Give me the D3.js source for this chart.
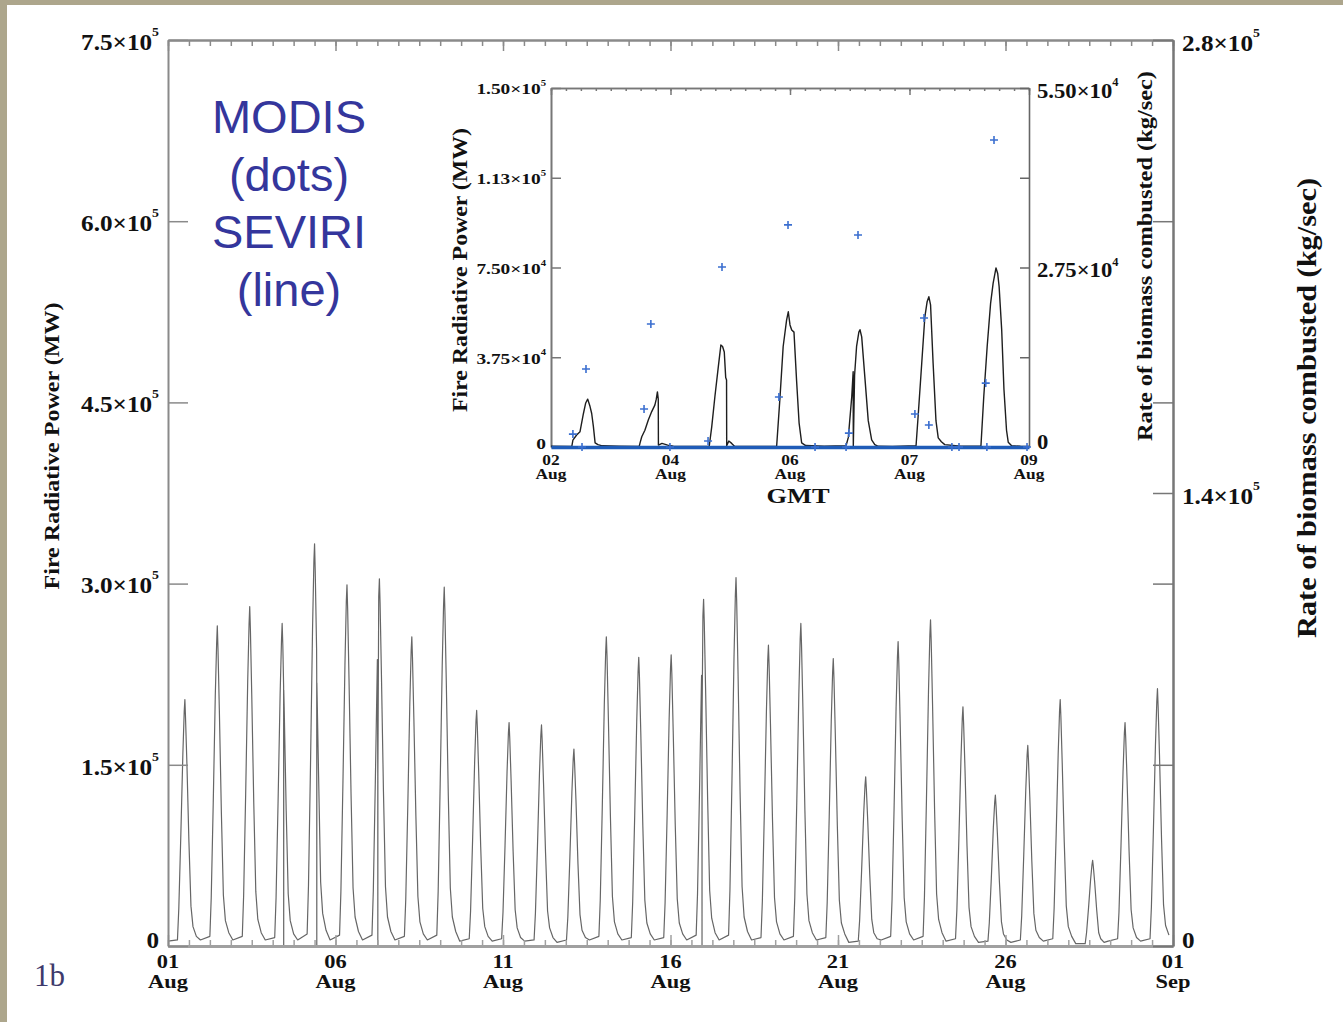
<!DOCTYPE html>
<html>
<head>
<meta charset="utf-8">
<script src="https://cdn.jsdelivr.net/npm/d3@7"></script>
<style>
  html, body { margin: 0; padding: 0; background: #ffffff; }
  svg { display: block; }
  .serif { font-family: "Liberation Serif", "Times New Roman", serif; font-weight: bold; fill: #111; }
</style>
</head>
<body>
<svg id="fig" width="1343" height="1022"></svg>
<script>
// ---------------- data ----------------
// Main panel: SEVIRI fire radiative power, August, one row per day (kMW),
// sampled at the hours (UTC) listed in seviriHours.
const seviriHours = [0, 7, 8, 9.5, 11, 12, 12.5, 13, 14, 15.5, 17, 18.5, 21];
const seviriAugust = [
  [4, 5, 31, 92, 159, 194, 204, 188, 151, 86, 33, 16, 8],
  [5, 8, 40, 119, 207, 250, 265, 246, 196, 111, 42, 21, 11],
  [5, 8, 42, 126, 219, 266, 281, 262, 208, 118, 45, 22, 11],
  [5, 7, 40, 120, 208, 252, 267, 249, 198, 112, 43, 21, 10],
  [5, 10, 50, 150, 262, 318, 333, 310, 246, 140, 53, 27, 13],
  [5, 9, 45, 135, 233, 285, 299, 279, 221, 126, 48, 24, 12],
  [5, 9, 46, 137, 237, 289, 304, 284, 225, 128, 49, 24, 12],
  [5, 8, 38, 115, 200, 244, 256, 238, 189, 108, 41, 20, 10],
  [5, 9, 45, 134, 232, 282, 297, 277, 220, 125, 48, 24, 12],
  [4, 6, 29, 88, 152, 186, 195, 181, 144, 82, 31, 16, 8],
  [4, 6, 28, 83, 144, 176, 185, 172, 137, 78, 30, 15, 7],
  [4, 5, 27, 82, 143, 174, 183, 170, 135, 77, 29, 15, 7],
  [3, 5, 24, 73, 127, 155, 163, 151, 121, 68, 26, 13, 7],
  [5, 8, 38, 115, 200, 243, 256, 240, 189, 108, 41, 20, 10],
  [5, 7, 36, 108, 186, 227, 239, 223, 177, 100, 38, 19, 10],
  [5, 7, 36, 108, 188, 229, 241, 225, 178, 101, 39, 19, 10],
  [5, 9, 43, 129, 224, 273, 287, 268, 212, 121, 46, 23, 11],
  [5, 9, 46, 137, 238, 290, 305, 285, 226, 128, 49, 24, 12],
  [5, 7, 37, 112, 194, 237, 249, 232, 184, 105, 40, 20, 10],
  [5, 8, 40, 120, 208, 254, 267, 249, 198, 112, 43, 21, 11],
  [5, 7, 36, 107, 186, 226, 238, 222, 176, 100, 38, 19, 10],
  [3, 4, 21, 63, 109, 133, 140, 130, 104, 59, 22, 11, 6],
  [5, 8, 38, 113, 197, 239, 252, 235, 186, 106, 40, 20, 10],
  [5, 8, 41, 122, 211, 257, 270, 252, 200, 113, 43, 22, 11],
  [4, 6, 30, 89, 154, 188, 198, 184, 147, 83, 32, 16, 8],
  [3, 4, 19, 56, 98, 119, 125, 116, 93, 53, 20, 10, 5],
  [3, 5, 25, 75, 129, 158, 166, 154, 123, 70, 27, 13, 7],
  [4, 6, 31, 92, 159, 194, 204, 190, 151, 86, 33, 16, 8],
  [2, 2, 11, 32, 55, 67, 71, 66, 53, 30, 11, 6, 3],
  [4, 6, 28, 83, 144, 176, 185, 172, 137, 78, 30, 15, 7],
  [4, 6, 32, 96, 166, 202, 213, 198, 158, 89, 34, 17, 9]
];
// Short dropouts in the record: [day index, hour UTC, kMW]
const seviriAugustDropouts = [
  [3, 13.60, 215], [3, 13.65, 0], [3, 13.70, 212],
  [4, 14.10, 225], [4, 14.15, 0], [4, 14.20, 218],
  [6, 11.30, 143], [6, 11.34, 0], [6, 11.38, 143],
  [16, 11.30, 184], [16, 11.34, 0], [16, 11.38, 190]
];

// Main axes
const mainTickDays = ["01", "06", "11", "16", "21", "26", "01"];
const mainTickMonths = ["Aug", "Aug", "Aug", "Aug", "Aug", "Aug", "Sep"];
const mainFrpTicks = [0, 1.5e5, 3.0e5, 4.5e5, 6.0e5, 7.5e5];
const mainFrpMantissa = ["0", "1.5", "3.0", "4.5", "6.0", "7.5"];
const mainFrpExponent = ["", "5", "5", "5", "5", "5"];
const mainRateTicks = [0, 1.4e5, 2.8e5];
const mainRateMantissa = ["0", "1.4", "2.8"];
const mainRateExponent = ["", "5", "5"];

// Inset: 02-09 Aug, hours since 02 Aug 00 UTC, FRP in kMW
const insetSeviri = [
  [0, 0.3], [7.3, 0.2], [7.7, 2.9], [9.0, 5.0], [10.2, 6.4], [11.4, 14.0], [12.2, 18.4],
  [12.9, 20.0], [13.3, 18.5], [13.7, 17.0], [14.3, 14.0], [14.9, 8.5], [15.5, 1.7], [16.5, 1.0],
  [18.0, 0.5], [24, 0.3], [31.0, 0.2], [31.3, 1.7], [31.9, 4.3], [33.0, 7.0], [34.2, 11.3],
  [35.4, 14.8], [36.5, 17.5], [37.0, 20.0], [37.4, 23.0], [37.7, 20.0], [37.75, 0.8], [39.0, 1.5],
  [41.0, 0.8], [43.0, 0.3], [48, 0.2], [55.6, 0.2], [56.5, 8.5], [57.6, 21.0], [58.8, 33.5],
  [59.7, 42.6], [60.3, 42.0], [60.9, 39.7], [61.4, 29.0], [61.7, 28.0], [61.75, 0.5],
  [62.5, 2.5], [63.5, 1.5], [64.5, 0.3], [72, 0.2], [79.3, 0.2], [80.5, 21.0], [81.6, 42.0],
  [82.8, 53.0], [83.4, 56.5], [84.0, 51.0], [84.6, 48.9], [85.4, 48.0], [86.3, 28.0],
  [87.2, 10.0], [88.1, 1.7], [89.5, 0.6], [96, 0.3], [103.7, 0.5], [104.5, 4.0], [105.7, 21.0],
  [106.2, 31.5], [106.25, 0.3], [106.7, 30.0], [107.4, 42.0], [108.2, 48.0], [108.6, 49.0],
  [109.2, 46.0], [110.3, 29.3], [111.5, 11.0], [112.7, 3.0], [113.8, 1.0], [115.0, 0.3],
  [120, 0.2], [128.3, 0.5], [129.1, 14.0], [130.3, 35.0], [131.4, 54.4], [132.2, 60.7],
  [132.8, 62.8], [133.4, 59.4], [134.3, 35.0], [135.3, 11.0], [136.1, 3.8], [137.2, 2.2],
  [138.4, 1.0], [144, 0.3], [151.1, 0.3], [152.1, 21.0], [153.3, 42.0], [154.5, 60.0],
  [155.4, 68.5], [156.4, 74.8], [157.0, 72.5], [157.5, 67.0], [158.4, 49.0], [159.2, 24.0],
  [160.1, 7.0], [160.7, 2.0], [161.9, 0.5], [165, 0.3], [168, 0.2]
];
// MODIS overpass retrievals: [hours since 02 Aug 00 UTC, kMW]
const insetModis = [
  [7.7, 5.4], [12.3, 32.6], [32.7, 15.9], [35.1, 51.4], [55.2, 2.5], [60.1, 75.2],
  [80.1, 20.9], [83.3, 92.8], [104.7, 5.8], [107.9, 88.6], [127.9, 13.8], [131.1, 53.9],
  [132.8, 9.2], [152.8, 26.7], [155.7, 128.3],
  [10.9, 0], [41.8, 0], [92.8, 0], [103.7, 0], [140.9, 0], [143.4, 0], [153.2, 0], [167.3, 0]
];
const insetTickDays = ["02", "04", "06", "07", "09"];
const insetTickMonths = ["Aug", "Aug", "Aug", "Aug", "Aug"];
const insetFrpTicks = [0, 3.75e4, 7.5e4, 1.125e5, 1.5e5];
const insetFrpMantissa = ["0", "3.75", "7.50", "1.13", "1.50"];
const insetFrpExponent = ["", "4", "4", "5", "5"];
const insetRateTicks = [0, 2.75e4, 5.5e4];
const insetRateMantissa = ["0", "2.75", "5.50"];
const insetRateExponent = ["", "4", "4"];

const legendLines = ["MODIS", "(dots)", "SEVIRI", "(line)"];

// ---------------- drawing ----------------
const svg = d3.select("#fig");
const SERIF = '"Liberation Serif", "Times New Roman", serif';

// page frame
svg.append("rect").attr("x", 0).attr("y", 0).attr("width", 1343).attr("height", 1022).attr("fill", "#ffffff");
svg.append("rect").attr("x", 0).attr("y", 0).attr("width", 1343).attr("height", 5).attr("fill", "#ada68c");
svg.append("rect").attr("x", 0).attr("y", 0).attr("width", 7).attr("height", 1022).attr("fill", "#ada68c");

// scientific-notation label: mantissa "×10" with raised exponent
function sciLabel(g, x, y, mant, exp, size, anchor, sx) {
  const t = g.append("text")
    .attr("class", "serif")
    .attr("transform", `translate(${x},${y}) scale(${sx || 1},1)`)
    .attr("text-anchor", anchor)
    .attr("font-size", size)
    .attr("dominant-baseline", "central");
  if (exp === "") {
    t.text(mant);
  } else {
    t.append("tspan").text(mant + "\u00D710");
    t.append("tspan").attr("font-size", size * 0.55).attr("dy", -size * 0.42).text(exp);
  }
  return t;
}

// two-line date label (day over month) as one text element
function dateLabel(g, x, y, day, month, size, sx, gap) {
  const t = g.append("text").attr("class", "serif").attr("font-size", size)
    .attr("text-anchor", "middle")
    .attr("transform", `translate(${x},${y}) scale(${sx},1)`);
  t.append("tspan").attr("x", 0).attr("y", 0).text(day);
  t.append("tspan").attr("x", 0).attr("y", gap).text(month);
  return t;
}

// ---- main panel ----
const M = { left: 168, right: 1173, top: 40, bottom: 946 };
const x = d3.scaleLinear().domain([0, 31]).range([M.left, M.right]);
const y = d3.scaleLinear().domain([0, 7.5e5]).range([M.bottom, M.top]);
const yRate = d3.scaleLinear().domain([0, 2.8e5]).range([M.bottom, M.top]);

const majorDays = d3.range(7).map(i => i * 31 / 6);
const minorDays = d3.range(49).map(i => i * 31 / 48);

const axisColor = "#8a8a8a";
function styleAxis(g, color, width) {
  g.selectAll("path.domain").attr("stroke", color).attr("stroke-width", width);
  g.selectAll(".tick line").attr("stroke", color).attr("stroke-width", 1.5);
  g.selectAll(".tick text").remove();
}

// series
const mainPoints = [];
seviriAugust.forEach((row, d) => {
  row.forEach((v, i) => mainPoints.push({ t: d + seviriHours[i] / 24, v: v * 1000 }));
});
seviriAugustDropouts.forEach(([d, h, v]) => mainPoints.push({ t: d + h / 24, v: v * 1000 }));
mainPoints.sort((a, b) => a.t - b.t);

svg.append("path")
  .datum(mainPoints)
  .attr("fill", "none")
  .attr("stroke", "#666")
  .attr("stroke-width", 1.2)
  .attr("stroke-linejoin", "round")
  .attr("d", d3.line().x(p => x(p.t)).y(p => y(p.v)));

// bottom axis (minor + major ticks pointing up)
svg.append("g").attr("transform", `translate(0,${M.bottom})`)
  .call(d3.axisBottom(x).tickValues(minorDays).tickSize(-6).tickSizeOuter(0))
  .call(g => styleAxis(g, "#a0a0a0", 3));
svg.append("g").attr("transform", `translate(0,${M.bottom})`)
  .call(d3.axisBottom(x).tickValues(majorDays).tickSize(-11).tickSizeOuter(0))
  .call(g => styleAxis(g, "#a0a0a0", 3));
// top axis
svg.append("g").attr("transform", `translate(0,${M.top})`)
  .call(d3.axisTop(x).tickValues(minorDays).tickSize(-6).tickSizeOuter(0))
  .call(g => styleAxis(g, axisColor, 2));
svg.append("g").attr("transform", `translate(0,${M.top})`)
  .call(d3.axisTop(x).tickValues(majorDays).tickSize(-11).tickSizeOuter(0))
  .call(g => styleAxis(g, axisColor, 2));
// left axis
svg.append("g").attr("transform", `translate(${M.left},0)`)
  .call(d3.axisLeft(y).tickValues(mainFrpTicks).tickSize(-20).tickSizeOuter(0))
  .call(g => styleAxis(g, axisColor, 2));
// right axis: own ticks plus the FRP tick marks mirrored
svg.append("g").attr("transform", `translate(${M.right},0)`)
  .call(d3.axisRight(y).tickValues(mainFrpTicks).tickSize(-20).tickSizeOuter(0))
  .call(g => styleAxis(g, "#777", 2));
svg.append("g").attr("transform", `translate(${M.right},0)`)
  .call(d3.axisRight(yRate).tickValues(mainRateTicks).tickSize(-20).tickSizeOuter(0))
  .call(g => styleAxis(g, "#777", 2));

const labels = svg.append("g");
mainFrpTicks.forEach((v, i) => {
  const yy = y(v) + (v === 0 ? -6 : 1);
  sciLabel(labels, 159, yy, mainFrpMantissa[i], mainFrpExponent[i], 24, "end", 1.05);
});
mainRateTicks.forEach((v, i) => {
  const yy = yRate(v) + (v === 0 ? -6 : 2);
  sciLabel(labels, 1182, yy, mainRateMantissa[i], mainRateExponent[i], 24, "start", 1.05);
});
majorDays.forEach((d, i) => {
  dateLabel(labels, x(d), 968, mainTickDays[i], mainTickMonths[i], 19.5, 1.15, 20);
});

// axis titles
svg.append("text").attr("class", "serif").attr("font-size", 22)
  .attr("text-anchor", "middle")
  .attr("transform", `translate(59,446) rotate(-90)`)
  .attr("textLength", 287).attr("lengthAdjust", "spacingAndGlyphs")
  .text("Fire Radiative Power (MW)");
svg.append("text").attr("class", "serif").attr("font-size", 27)
  .attr("text-anchor", "middle")
  .attr("transform", `translate(1316,408) rotate(-90)`)
  .attr("textLength", 460).attr("lengthAdjust", "spacingAndGlyphs")
  .text("Rate of biomass combusted (kg/sec)");

// panel tag
svg.append("text").attr("x", 34).attr("y", 986)
  .attr("font-family", SERIF).attr("font-size", 31).attr("fill", "#3e3a6c")
  .text("1b");

// legend text
svg.append("g").selectAll("text").data(legendLines).join("text")
  .attr("x", 289).attr("y", (d, i) => 133 + i * 57.5)
  .attr("text-anchor", "middle")
  .attr("font-family", '"Liberation Sans", Arial, sans-serif')
  .attr("font-size", 47).attr("fill", "#34369c")
  .text(d => d);

// ---- inset panel ----
const I = { left: 551, right: 1029, top: 88, bottom: 447 };
const xi = d3.scaleLinear().domain([0, 168]).range([I.left, I.right]);
const yi = d3.scaleLinear().domain([0, 1.5e5]).range([I.bottom, I.top]);
const yiRate = d3.scaleLinear().domain([0, 5.5e4]).range([I.bottom, I.top]);
const insetMajor = d3.range(5).map(i => i * 42);
const insetMinor = d3.range(33).map(i => i * 5.25);

svg.append("rect").attr("x", I.left).attr("y", I.top)
  .attr("width", I.right - I.left).attr("height", I.bottom - I.top).attr("fill", "#fff");

svg.append("g").attr("transform", `translate(0,${I.top})`)
  .call(d3.axisTop(xi).tickValues(insetMinor).tickSize(-3).tickSizeOuter(0))
  .call(g => styleAxis(g, "#777", 1.6));
svg.append("g").attr("transform", `translate(0,${I.top})`)
  .call(d3.axisTop(xi).tickValues(insetMajor).tickSize(-7).tickSizeOuter(0))
  .call(g => styleAxis(g, "#777", 1.6));
svg.append("g").attr("transform", `translate(${I.left},0)`)
  .call(d3.axisLeft(yi).tickValues(insetFrpTicks).tickSize(-10).tickSizeOuter(0))
  .call(g => styleAxis(g, "#777", 2));
svg.append("g").attr("transform", `translate(${I.right},0)`)
  .call(d3.axisRight(yi).tickValues(insetFrpTicks).tickSize(-9).tickSizeOuter(0))
  .call(g => styleAxis(g, "#666", 1.6));

// SEVIRI line
svg.append("path")
  .datum(insetSeviri)
  .attr("fill", "none")
  .attr("stroke", "#1e1e1e")
  .attr("stroke-width", 1.4)
  .attr("stroke-linejoin", "round")
  .attr("d", d3.line().x(p => xi(p[0])).y(p => yi(p[1] * 1000)));

// MODIS zero-level track along the bottom edge
svg.append("g").attr("transform", `translate(0,${I.bottom})`)
  .call(d3.axisBottom(xi).tickValues([]).tickSizeOuter(0))
  .call(g => g.select("path.domain").attr("stroke", "#1f5cb8").attr("stroke-width", 3.5));

// MODIS crosses
const plus = { draw(ctx) { const r = 4; ctx.moveTo(-r, 0); ctx.lineTo(r, 0); ctx.moveTo(0, -r); ctx.lineTo(0, r); } };
svg.append("g").selectAll("path").data(insetModis).join("path")
  .attr("transform", p => `translate(${xi(p[0])},${yi(p[1] * 1000)})`)
  .attr("d", d3.symbol().type(plus)())
  .attr("fill", "none").attr("stroke", "#3b6fd0").attr("stroke-width", 1.6);

const il = svg.append("g");
insetFrpTicks.forEach((v, i) => {
  const yy = yi(v) + (v === 0 ? -3 : 1);
  sciLabel(il, 546, yy, insetFrpMantissa[i], insetFrpExponent[i], 15.5, "end", 1.25);
});
insetRateTicks.forEach((v, i) => {
  const yy = yiRate(v) + (v === 0 ? -5 : 3);
  sciLabel(il, 1037, yy, insetRateMantissa[i], insetRateExponent[i], 21, "start", 1.08);
});
insetMajor.forEach((h, i) => {
  dateLabel(il, xi(h), 465, insetTickDays[i], insetTickMonths[i], 14.5, 1.2, 14.5);
});
il.append("text").attr("class", "serif").attr("font-size", 22).attr("text-anchor", "middle")
  .attr("transform", `translate(798,503) scale(1.2,1)`).text("GMT");
il.append("text").attr("class", "serif").attr("font-size", 20).attr("text-anchor", "middle")
  .attr("transform", `translate(467,270) rotate(-90)`)
  .attr("textLength", 284).attr("lengthAdjust", "spacingAndGlyphs")
  .text("Fire Radiative Power (MW)");
il.append("text").attr("class", "serif").attr("font-size", 21).attr("text-anchor", "middle")
  .attr("transform", `translate(1152,256) rotate(-90)`)
  .attr("textLength", 370).attr("lengthAdjust", "spacingAndGlyphs")
  .text("Rate of biomass combusted (kg/sec)");
</script>
</body>
</html>
